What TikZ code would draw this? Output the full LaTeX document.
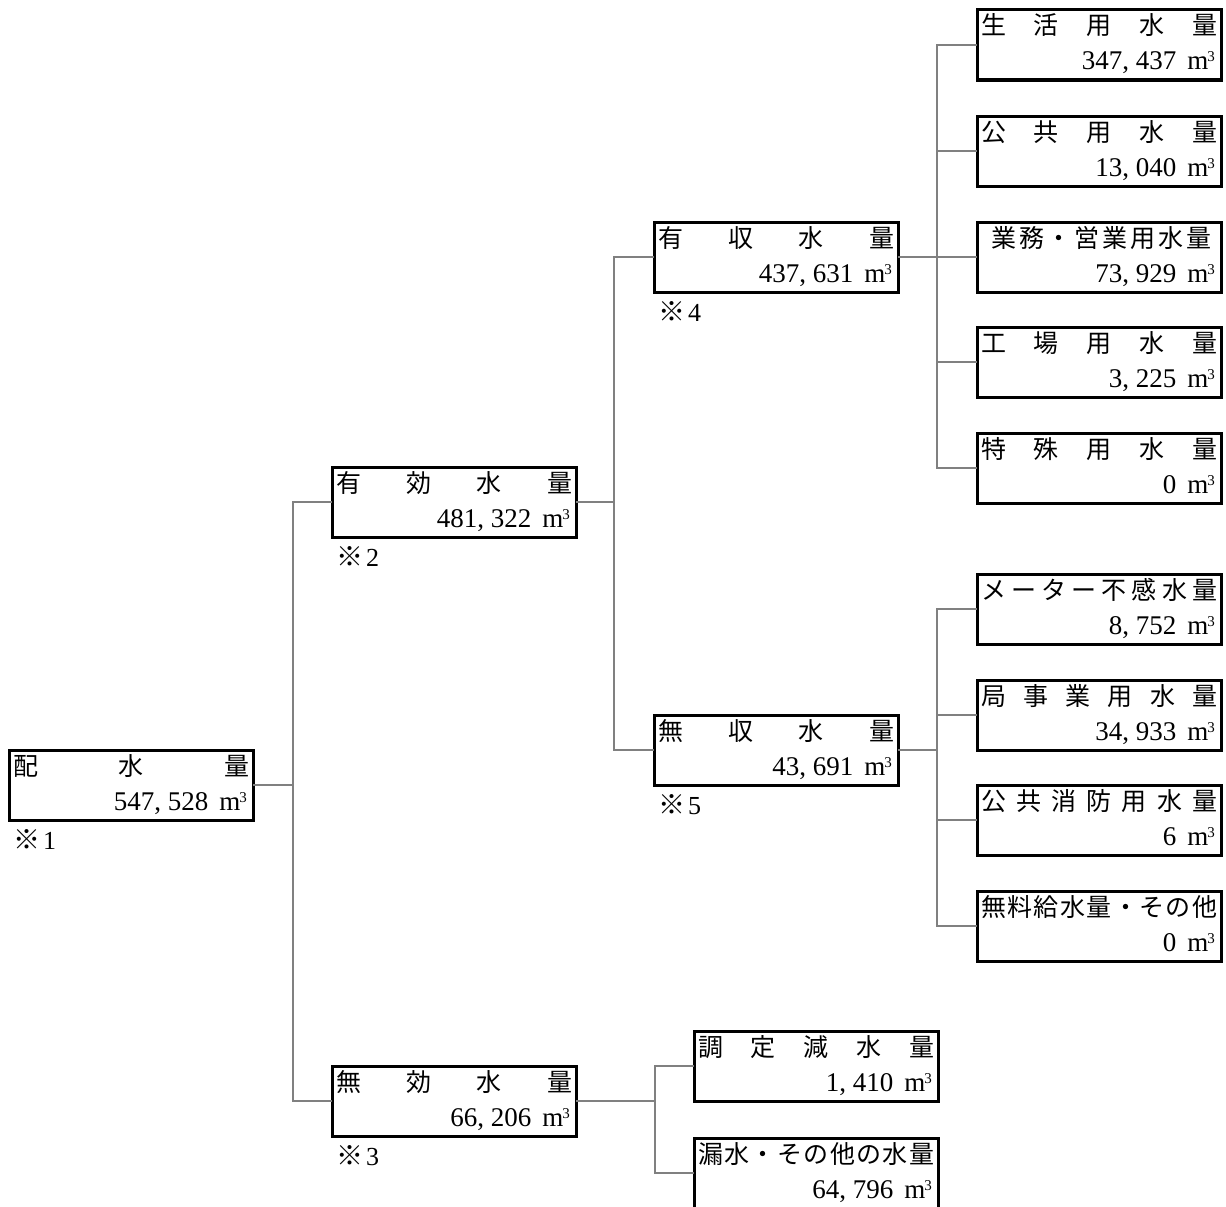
\documentclass[tikz,border=0pt]{standalone}
\usepackage{fontspec}
\setmainfont{Liberation Serif}
\newfontfamily\cjk{Noto Sans CJK JP}
\usetikzlibrary{calc}
\tikzset{
  box/.style={draw=black, line width=3pt, minimum width=244pt, minimum height=70pt, inner sep=0pt, outer sep=0pt, fill=white},
  conn/.style={draw=black!50, line width=1.5pt},
  lbl/.style={inner sep=0pt, font=\cjk\fontsize{25}{25}\selectfont},
  num/.style={inner sep=0pt, font=\fontsize{27}{27}\selectfont},
  note/.style={inner sep=0pt, font=\fontsize{26}{26}\selectfont},
}
\newcommand\wbox[5]{%
  \node[box,anchor=north west] (#1) at (#2,#3) {};
  \node[lbl,anchor=base west] (#1-t) at ($(#1.north west)+(4,25)$) {\makebox[236pt]{#4}};
  \node[num,anchor=base east] (#1-n) at ($(#1.south east)+(-6,-10)$) {#5\hspace{11pt}m\kern-1pt\raisebox{8pt}{\fontsize{15}{15}\selectfont 3}};
}
\newcommand\wnote[2]{%
  \node[note,anchor=base west] (#1-note) at ($(#1.south west)+(4,29)$) {{\cjk\fontsize{27}{27}\selectfont ※}\hspace{3pt}#2};
}
\begin{document}
\begin{tikzpicture}[x=1pt,y=-1pt]
\useasboundingbox[fill=white] (0,0) rectangle (1226,1207);

% boxes
\wbox{haisui}{9}{750}{配\hfill 水\hfill 量}{547, 528}
\wbox{yuko}{332}{467}{有\hfill 効\hfill 水\hfill 量}{481, 322}
\wbox{muko}{332}{1066}{無\hfill 効\hfill 水\hfill 量}{66, 206}
\wbox{yushu}{654}{222}{有\hfill 収\hfill 水\hfill 量}{437, 631}
\wbox{mushu}{654}{715}{無\hfill 収\hfill 水\hfill 量}{43, 691}
\wbox{seikatsu}{977}{10}{生\hfill 活\hfill 用\hfill 水\hfill 量}{347, 437}
\wbox{kokyo}{977}{116}{公\hfill 共\hfill 用\hfill 水\hfill 量}{13, 040}
\wbox{gyomu}{977}{222}{\hspace{10pt}業\hfill 務\hfill ・\hfill 営\hfill 業\hfill 用\hfill 水\hfill 量\hspace{6pt}}{73, 929}
\wbox{kojo}{977}{327}{工\hfill 場\hfill 用\hfill 水\hfill 量}{3, 225}
\wbox{tokushu}{977}{433}{特\hfill 殊\hfill 用\hfill 水\hfill 量}{0}
\wbox{meter}{977}{574}{メ\hfill ー\hfill タ\hfill ー\hfill 不\hfill 感\hfill 水\hfill 量}{8, 752}
\wbox{kyoku}{977}{680}{局\hfill 事\hfill 業\hfill 用\hfill 水\hfill 量}{34, 933}
\wbox{shobo}{977}{785}{公\hfill 共\hfill 消\hfill 防\hfill 用\hfill 水\hfill 量}{6}
\wbox{muryo}{977}{891}{無\hfill 料\hfill 給\hfill 水\hfill 量\hfill ・\hfill そ\hfill の\hfill 他}{0}
\wbox{chotei}{694}{1031}{調\hfill 定\hfill 減\hfill 水\hfill 量}{1, 410}
\wbox{rosui}{694}{1138}{漏\hfill 水\hfill ・\hfill そ\hfill の\hfill 他\hfill の\hfill 水\hfill 量}{64, 796}

% notes
\wnote{haisui}{1}
\wnote{yuko}{2}
\wnote{muko}{3}
\wnote{yushu}{4}
\wnote{mushu}{5}

% connectors
\coordinate (j1) at ($(haisui.east)+(40,0)$);
\coordinate (j2) at ($(yuko.east)+(38,0)$);
\coordinate (j3) at ($(yushu.east)+(39,0)$);
\coordinate (j4) at ($(mushu.east)+(39,0)$);
\coordinate (j5) at ($(muko.east)+(79,0)$);
\draw[conn] (haisui.east) -- (j1);
\draw[conn] (j1) |- (yuko.west);
\draw[conn] (j1) |- (muko.west);
\draw[conn] (yuko.east) -- (j2);
\draw[conn] (j2) |- (yushu.west);
\draw[conn] (j2) |- (mushu.west);
\draw[conn] (yushu.east) -- (j3);
\draw[conn] (j3) |- (seikatsu.west);
\draw[conn] (j3) |- (kokyo.west);
\draw[conn] (j3) |- (gyomu.west);
\draw[conn] (j3) |- (kojo.west);
\draw[conn] (j3) |- (tokushu.west);
\draw[conn] (mushu.east) -- (j4);
\draw[conn] (j4) |- (meter.west);
\draw[conn] (j4) |- (kyoku.west);
\draw[conn] (j4) |- (shobo.west);
\draw[conn] (j4) |- (muryo.west);
\draw[conn] (muko.east) -- (j5);
\draw[conn] (j5) |- (chotei.west);
\draw[conn] (j5) |- (rosui.west);
\end{tikzpicture}
\end{document}
